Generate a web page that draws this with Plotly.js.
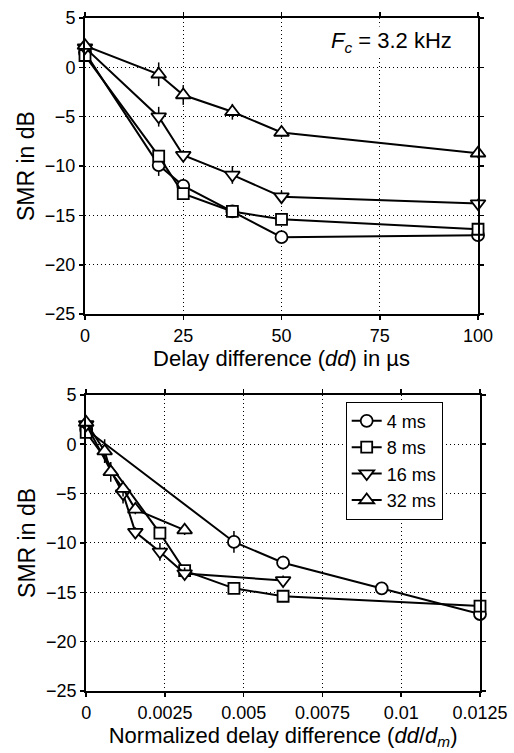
<!DOCTYPE html>
<html><head><meta charset="utf-8">
<script src="https://cdn.plot.ly/plotly-3.0.1.min.js"></script>
<style>html,body{margin:0;padding:0;background:#fff}</style>
</head><body><div id="chart" style="width:514px;height:753px"></div>
<script>
// ---- data ----
const seriesNames = ['4 ms', '8 ms', '16 ms', '32 ms'];
const ddUs = [0, 18.75, 25, 37.5, 50, 100];           // delay difference in µs
const smr4 = [1.5, -9.9, -12.0, -14.6, -17.2, -17.0];
const smr8 = [1.2, -9.0, -12.8, -14.6, -15.4, -16.4];
const smr16 = [2.0, -5.0, -8.9, -10.9, -13.1, -13.8];
const smr32 = [2.2, -0.7, -2.8, -4.5, -6.6, -8.7];
const err4 = [0.3, 1.1, 0.7, 0.5, 0.4, 0.4];
const err8 = [0.3, 0.6, 0.5, 0.5, 0.4, 0.4];
const err16 = [0.3, 1.0, 0.5, 0.9, 0.6, 0.5];
const err32 = [0.3, 1.2, 1.0, 0.8, 0.5, 0.5];
// normalized delay difference dd/dm
const norm4 = [0, 0.00469, 0.00625, 0.00938, 0.0125];
const norm8 = [0, 0.00234, 0.003125, 0.00469, 0.00625, 0.0125];
const norm16 = [0, 0.00117, 0.00156, 0.00234, 0.003125, 0.00625];
const norm32 = [0, 0.000586, 0.00078, 0.00117, 0.00156, 0.003125];
const topTicks = [0, 25, 50, 75, 100];
const botTickVals = [0, 0.0025, 0.005, 0.0075, 0.01, 0.0125];
const botTickText = ['0', '0.0025', '0.005', '0.0075', '0.01', '0.0125'];
const yTicks = [5, 0, -5, -10, -15, -20, -25];

const symbols = ['circle', 'square', 'triangle-down', 'triangle-up'];
const sizes = [12, 11, 13, 13];
const FONT = 'Liberation Sans, Arial, Helvetica, sans-serif';

function tr(x, y, e, i, xa, ya, showleg) {
  return {
    type: 'scatter', mode: 'lines+markers', x: x, y: y,
    name: seriesNames[i], xaxis: xa, yaxis: ya, showlegend: showleg,
    cliponaxis: false,
    line: {color: 'black', width: 2},
    marker: {symbol: symbols[i], size: sizes[i], color: 'white', line: {color: 'black', width: 1.8}},
    error_y: {type: 'data', array: e, visible: true, color: 'black', thickness: 1.5, width: 0}
  };
}
const ys = [smr4, smr8, smr16, smr32];
const es = [err4, err8, err16, err32];
const norms = [norm4, norm8, norm16, norm32];
const data = [];
for (let i = 0; i < 4; i++) data.push(tr(ddUs, ys[i], es[i], i, 'x', 'y', false));
for (let i = 0; i < 4; i++) {
  const n = norms[i].length;
  data.push(tr(norms[i], ys[i].slice(0, n), es[i].slice(0, n), i, 'x2', 'y2', true));
}

const axCommon = {
  showline: true, linecolor: 'black', linewidth: 2, mirror: 'ticks',
  ticks: 'outside', ticklen: 4, tickwidth: 1.5, tickcolor: 'black',
  showgrid: true, gridcolor: 'black', gridwidth: 1, griddash: '1px,3px',
  zeroline: false, tickfont: {family: FONT, size: 18, color: 'black'},
  automargin: false
};
const TFONT = {family: FONT, size: 22, color: 'black'};
const YFONT = {family: FONT, size: 23, color: 'black'};
const layout = {
  width: 514, height: 753,
  margin: {l: 85, r: 34, t: 18, b: 62},
  paper_bgcolor: 'white', plot_bgcolor: 'white',
  font: {family: FONT, color: 'black'},
  showlegend: true,
  legend: {
    x: 0.66, y: 0.43, xanchor: 'left', yanchor: 'top',
    bgcolor: 'white', bordercolor: 'black', borderwidth: 1,
    font: {family: FONT, size: 18, color: 'black'},
    tracegroupgap: 0, itemwidth: 30
  },
  xaxis: Object.assign({}, axCommon, {
    domain: [0, 0.995], anchor: 'y', range: [0, 100],
    tickmode: 'array', tickvals: topTicks,
    title: {text: 'Delay difference (<i>dd</i>) in µs', font: TFONT, standoff: 1}
  }),
  yaxis: Object.assign({}, axCommon, {
    domain: [0.56, 1], anchor: 'x', range: [-25, 5],
    tickmode: 'array', tickvals: yTicks,
    title: {text: 'SMR in dB', font: YFONT, standoff: 4}
  }),
  xaxis2: Object.assign({}, axCommon, {
    domain: [0.003, 1], anchor: 'y2', range: [0, 0.0125],
    tickmode: 'array', tickvals: botTickVals, ticktext: botTickText,
    title: {text: 'Normalized delay difference (<i>dd</i>/<i>d</i><sub><i>m</i></sub>)', font: TFONT, standoff: 1}
  }),
  yaxis2: Object.assign({}, axCommon, {
    domain: [0, 0.44], anchor: 'x2', range: [-25, 5],
    tickmode: 'array', tickvals: yTicks,
    title: {text: 'SMR in dB', font: YFONT, standoff: 4}
  }),
  annotations: [{
    xref: 'x domain', yref: 'y domain', x: 0.78, y: 0.92, xanchor: 'center', yanchor: 'middle',
    text: '<i>F</i><sub><i>c</i></sub> = 3.2 kHz', showarrow: false,
    font: {family: FONT, size: 22, color: 'black'}, bgcolor: 'white'
  }]
};
Plotly.newPlot('chart', data, layout, {staticPlot: true});
</script></body></html>
